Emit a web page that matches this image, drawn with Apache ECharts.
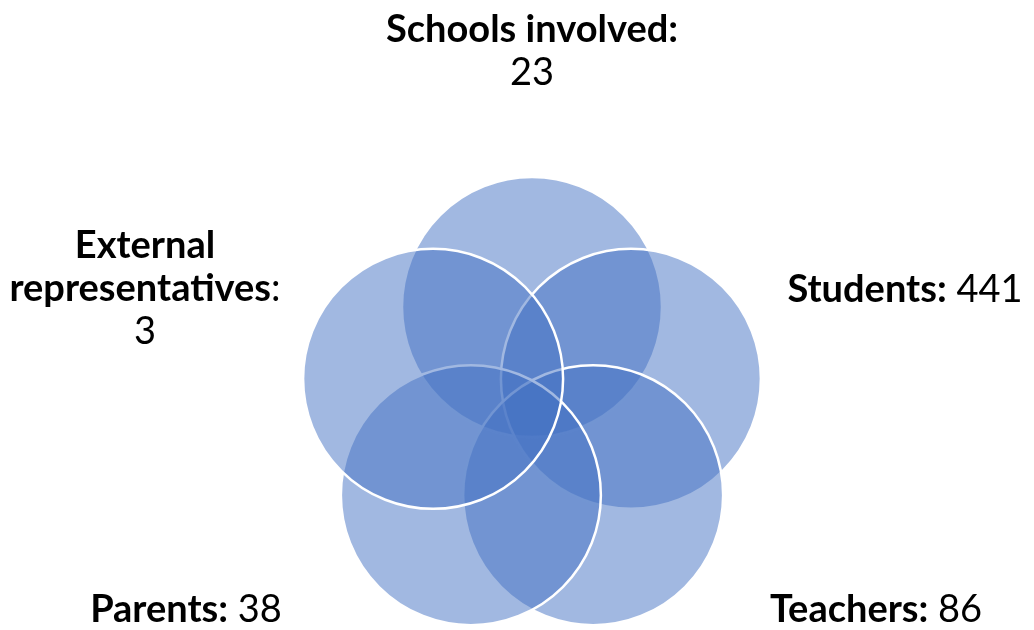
<!DOCTYPE html>
<html>
<head>
<meta charset="utf-8">
<script src="https://cdn.jsdelivr.net/npm/echarts@6/dist/echarts.min.js"></script>
<style>
  html, body { margin: 0; padding: 0; background: #fff; }
  #main { width: 1034px; height: 630px; }
</style>
</head>
<body>
<div id="main"></div>
<script>
// data
var groups = ['Schools involved', 'Students', 'Teachers', 'Parents', 'External representatives'];
var counts = [23, 441, 86, 38, 3];

// layout of the flower (pixels, y down)
var ringCx = 532, ringCy = 411, ringR = 104, circleR = 130;
var FONT = 'Lato, "Open Sans", sans-serif';
var FS = 38;

var chart = echarts.init(document.getElementById('main'), null, { renderer: 'canvas' });

// circle centres around a pentagon, clockwise from the top
var circleData = groups.map(function (g, i) {
  var a = (-90 + i * 72) * Math.PI / 180;
  return [ringCx + ringR * Math.cos(a), ringCy + ringR * Math.sin(a), circleR, g];
});

// label placement
var labelPos = [
  { x: 532, y: 51 },
  { x: 905, y: 290 },
  { x: 876, y: 610 },
  { x: 186, y: 610 },
  { x: 145, y: 289 }
];

function labelText(i) {
  if (i === 0) return '{b|' + groups[0] + ':}\n{n|' + counts[0] + '}';
  if (i === 4) return '{b|External}\n{b|representatives}{n|:}\n{n|' + counts[4] + '}';
  return '{b|' + groups[i] + ':}{n|\u00a0' + counts[i] + '}';
}

var labels = groups.map(function (g, i) {
  var p = labelPos[i];
  return {
    type: 'text',
    x: p.x,
    y: p.y,
    style: {
      text: labelText(i),
      align: 'center',
      verticalAlign: 'middle',
      rich: {
        b: { fontFamily: FONT, fontWeight: 'bold', fontSize: FS, lineHeight: 43, fill: '#000' },
        n: { fontFamily: FONT, fontSize: FS, lineHeight: 43, fill: '#000' }
      }
    }
  };
});

chart.setOption({
  animation: false,
  grid: { left: 0, right: 0, top: 0, bottom: 0 },
  xAxis: { type: 'value', min: 0, max: 1034, show: false },
  yAxis: { type: 'value', min: 0, max: 630, inverse: true, show: false },
  graphic: labels,
  series: [{
    type: 'custom',
    coordinateSystem: 'cartesian2d',
    data: circleData,
    renderItem: function (params, api) {
      var c = api.coord([api.value(0), api.value(1)]);
      var r = api.size([api.value(2), 0])[0];
      return {
        type: 'circle',
        shape: { cx: c[0], cy: c[1], r: r },
        style: {
          fill: 'rgba(68,114,196,0.5)',
          stroke: '#ffffff',
          lineWidth: 2.5
        }
      };
    }
  }]
});
</script>
</body>
</html>
